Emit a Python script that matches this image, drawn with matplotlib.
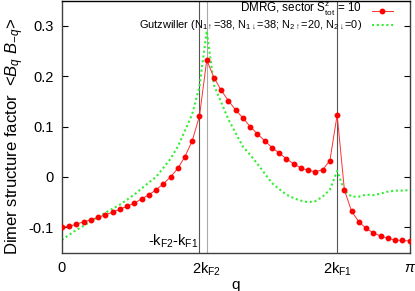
import numpy as np
import matplotlib
matplotlib.use('Agg')
import matplotlib.pyplot as plt
from matplotlib.lines import Line2D

plt.rcParams['font.family'] = ['Liberation Sans', 'DejaVu Sans']
plt.rcParams['mathtext.fontset'] = 'custom'
plt.rcParams['mathtext.rm'] = 'Liberation Sans'
plt.rcParams['mathtext.it'] = 'Liberation Sans:italic'

# lattice length and momentum index (q = 2*pi*k/L)
L = 96
k_idx = list(range(49))

# DMRG, sector S^z_tot = 10
dmrg = [-0.100, -0.098, -0.0935, -0.089, -0.085, -0.080, -0.075, -0.070,
        -0.064, -0.058, -0.052, -0.0434, -0.0355, -0.0256, -0.0138, 0.000,
        0.017, 0.0406, 0.072, 0.121, 0.232, 0.197, 0.172, 0.151, 0.133,
        0.117, 0.100, 0.0854, 0.072, 0.0585, 0.0473, 0.036, 0.026, 0.018,
        0.013, 0.0105, 0.0144, 0.0327, 0.123, -0.0257, -0.0684, -0.0888,
        -0.102, -0.111, -0.117, -0.1217, -0.125, -0.126, -0.127]

# Gutzwiller
gutz = [-0.125, -0.115, -0.105, -0.097, -0.088, -0.079, -0.071, -0.063,
        -0.055, -0.045, -0.035, -0.023, -0.011, 0.000, 0.018, 0.036,
        0.060, 0.092, 0.125, 0.180, 0.290, 0.182, 0.148, 0.114, 0.087,
        0.060, 0.044, 0.026, 0.007, -0.012, -0.024, -0.035, -0.042, -0.047,
        -0.050, -0.048, -0.039, -0.025, 0.012, -0.027, -0.039, -0.039,
        -0.035, -0.036, -0.033, -0.029, -0.027, -0.027, -0.026]

# special momenta (indices): pi-kF2-kF1, 2kF2, 2kF1
k_sum, k_2kf2, k_2kf1 = 19, 20, 38

q = 2 * np.pi * np.array(k_idx) / L
q_sum = 2 * np.pi * k_sum / L
q_2kf2 = 2 * np.pi * k_2kf2 / L
q_2kf1 = 2 * np.pi * k_2kf1 / L

fig = plt.figure(figsize=(4.15, 2.91), dpi=100)
ax = fig.add_axes([0.149, 0.132, 0.838, 0.866])

ax.axvline(q_sum, color='#555555', lw=0.8, zorder=1)
ax.axvline(q_2kf2, color='#aaaaaa', lw=0.8, zorder=1)
ax.axvline(q_2kf1, color='#555555', lw=0.8, zorder=1)

ax.plot(q, gutz, color='#33ee33', lw=1.5, linestyle=(0, (1, 1.3)), zorder=2)
ax.plot(q, dmrg, color='#ff3030', lw=0.7, marker='o', markersize=3.2,
        markerfacecolor='red', markeredgecolor='red', zorder=3)

ax.set_xlim(0, np.pi)
ax.set_ylim(-0.15, 0.35)
ax.set_yticks([-0.1, 0, 0.1, 0.2, 0.3])
ax.set_yticklabels(['-0.1', '0', '0.1', '0.2', '0.3'])
ax.set_xticks([0, q_2kf2, q_2kf1, np.pi])
ax.set_xticklabels(['0', r'2k$_{\mathrm{F2}}$', r'2k$_{\mathrm{F1}}$', r'$\pi$'])
ax.tick_params(axis='y', direction='in', length=4, width=0.8, labelsize=10.5,
               right=True, pad=6)
ax.tick_params(axis='x', direction='in', length=0, labelsize=10.5, pad=6)
for s in ax.spines.values():
    s.set_color('#404040')
    s.set_linewidth(1.0)
ax.spines['top'].set_color('black')

ax.set_xlabel('q', fontsize=11, labelpad=0)
ax.set_ylabel(r'Dimer structure factor  <$B_q$ $B_{-q}$>', fontsize=12)
ax.yaxis.set_label_coords(-0.103, 0.46)

ax.text(q_sum - 0.01, -0.144, r'-k$_{\mathrm{F2}}$-k$_{\mathrm{F1}}$', fontsize=10.5,
        ha='right', va='bottom')

# legend drawn gnuplot-style: right-aligned text, sample on the right
tx, x0, x1 = 0.862, 0.891, 0.953
ax.text(tx, 0.966, r'DMRG, sector S$^{\mathrm{z}}_{\mathrm{tot}}$ = 10', fontsize=8.4,
        ha='right', va='center', transform=ax.transAxes)
ax.add_line(Line2D([x0, x1], [0.958, 0.958], transform=ax.transAxes,
                   color='#ff3030', lw=0.7))
ax.add_line(Line2D([(x0 + x1) / 2], [0.958], transform=ax.transAxes,
                   color='red', marker='o', markersize=3.2, lw=0))
ax.text(tx, 0.902,
        r'Gutzwiller (N$_{1\uparrow}$=38, N$_{1\downarrow}$=38; N$_{2\uparrow}$=20, N$_{2\downarrow}$=0)',
        fontsize=7.9, ha='right', va='center', transform=ax.transAxes)
ax.add_line(Line2D([x0, x1], [0.905, 0.905], transform=ax.transAxes,
                   color='#33ee33', lw=1.5, linestyle=(0, (1, 1.3))))

fig.savefig('out.png', dpi=100)
